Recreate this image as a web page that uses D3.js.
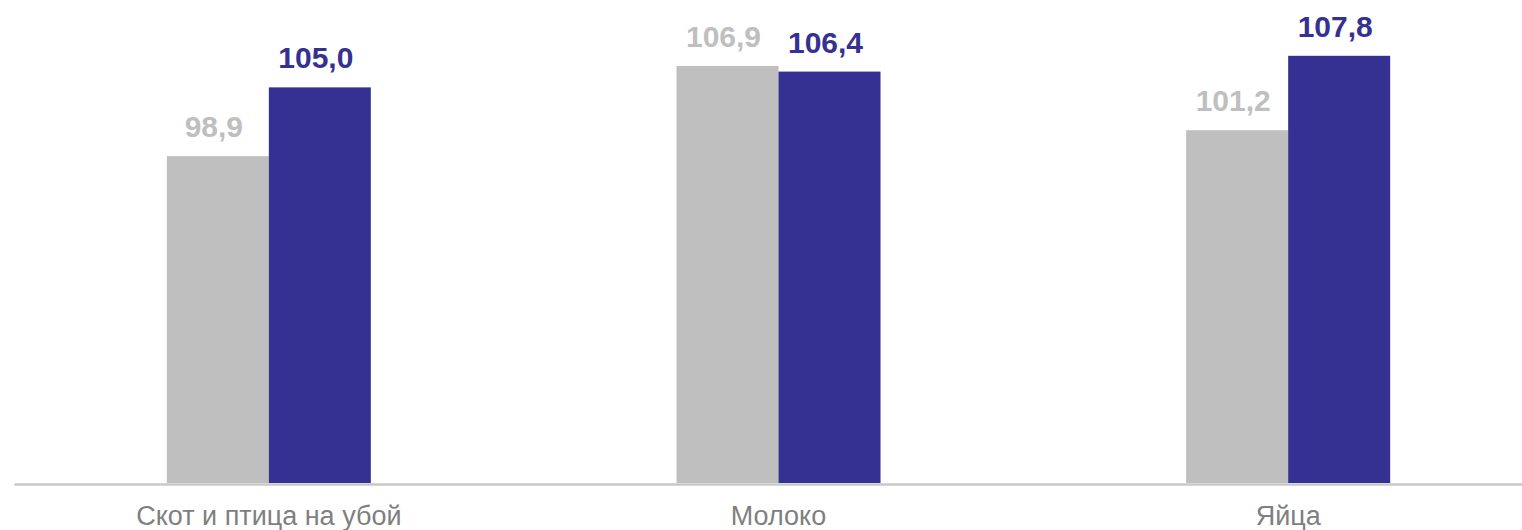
<!DOCTYPE html>
<html>
<head>
<meta charset="utf-8">
<script src="https://cdn.jsdelivr.net/npm/d3@7"></script>
<style>
  html, body { margin: 0; padding: 0; background: #fff; }
  svg { display: block; }
</style>
</head>
<body>
<svg id="chart" width="1522" height="530"></svg>
<script>
const categories = ["Скот и птица на убой", "Молоко", "Яйца"];
const seriesNames = ["prev", "curr"];
const prevValues = [98.9, 106.9, 101.2];
const currValues = [105.0, 106.4, 107.8];
const valueLabels = [["98,9", "106,9", "101,2"], ["105,0", "106,4", "107,8"]];
const colors = ["#BFBFBF", "#353193"];

const svg = d3.select("#chart");
const x0 = d3.scaleBand().domain(categories).range([14, 1543]).padding(0);
const x1 = d3.scaleBand().domain(seriesNames).range([-102, 102]).padding(0);
const y = d3.scaleLinear().domain([70, 110]).range([482, 31]);

const series = [prevValues, currValues];
const FONT = "'Liberation Sans', Arial, sans-serif";

const g = svg.append("g");
series.forEach((vals, si) => {
  g.selectAll(".bar" + si)
    .data(vals)
    .enter().append("rect")
    .attr("x", (d, i) => x0(categories[i]) + x0.bandwidth() / 2 + x1(seriesNames[si]))
    .attr("width", x1.bandwidth())
    .attr("y", d => y(d))
    .attr("height", d => y(70) - y(d) + 1)
    .attr("fill", colors[si]);

  g.selectAll(".lbl" + si)
    .data(vals)
    .enter().append("text")
    .attr("x", (d, i) => x0(categories[i]) + x0.bandwidth() / 2 + x1(seriesNames[si]) + x1.bandwidth() / 2 - 4)
    .attr("y", d => y(d) - 19)
    .attr("text-anchor", "middle")
    .attr("font-family", FONT)
    .attr("font-weight", "bold")
    .attr("font-size", "30px")
    .attr("fill", colors[si])
    .text((d, i) => valueLabels[si][i]);
});

const axis = d3.axisBottom(x0).tickSize(0).tickPadding(22);
const ax = svg.append("g").attr("transform", "translate(0,484)").call(axis);
ax.select(".domain").attr("stroke", "#C8C8C8").attr("stroke-width", 2.5);
ax.selectAll("text")
  .attr("font-family", FONT)
  .attr("font-size", "27px")
  .attr("fill", "#7F7F7F")
  .attr("dy", "0.71em");
</script>
</body>
</html>
